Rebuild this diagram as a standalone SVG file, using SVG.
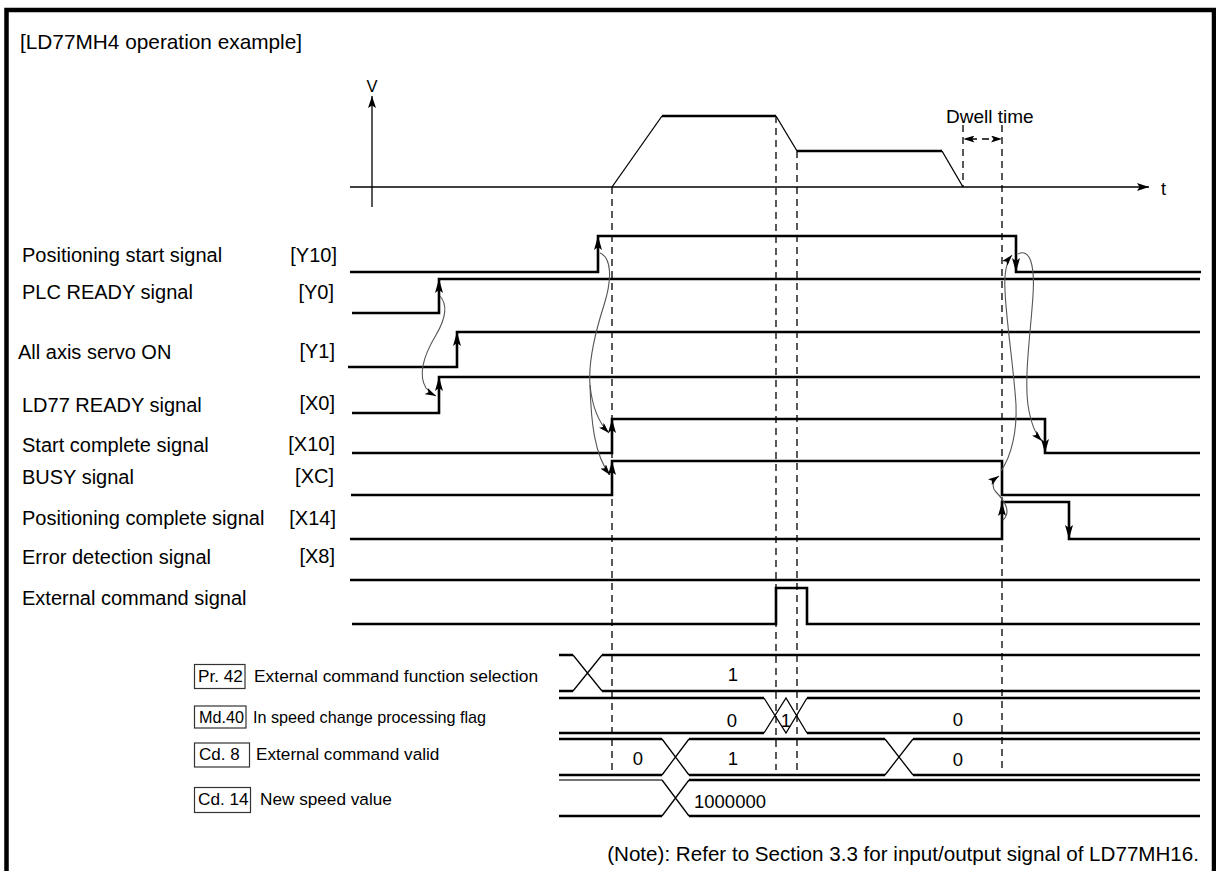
<svg xmlns="http://www.w3.org/2000/svg" width="1216" height="871" viewBox="0 0 1216 871">
<defs>
<style>
.t{font-family:"Liberation Sans",Arial,sans-serif;fill:#000}
.lbl{font-size:20px}
.r{text-anchor:end}
.v{font-size:18.5px;text-anchor:middle}
.w{fill:none;stroke:#000;stroke-width:2.6}
.th{fill:none;stroke:#000;stroke-width:1.3}
.ds{fill:none;stroke:#000;stroke-width:1.3;stroke-dasharray:7 5}
.cv{fill:none;stroke:#555;stroke-width:1.1;marker-end:url(#ahc)}
.mk{fill:none;stroke:none;marker-end:url(#ah)}
.bx{fill:none;stroke:#333;stroke-width:1.2}
</style>
<marker id="ah" viewBox="0 0 14 8" refX="14" refY="4" markerWidth="14" markerHeight="8" markerUnits="userSpaceOnUse" orient="auto"><path d="M0,0 L14,4 L0,8 L3,4 z" fill="#000"/></marker>
<marker id="ahc" viewBox="0 0 11 7" refX="11" refY="3.5" markerWidth="11" markerHeight="7" markerUnits="userSpaceOnUse" orient="auto"><path d="M0,0 L11,3.5 L0,7 L2.5,3.5 z" fill="#000"/></marker>
<marker id="aha" viewBox="0 0 12 8" refX="12" refY="4" markerWidth="12" markerHeight="8" markerUnits="userSpaceOnUse" orient="auto"><path d="M0,0 L12,4 L0,8 L2.5,4 z" fill="#000"/></marker>
</defs>
<rect width="1216" height="871" fill="#fff"/>
<g id="frame"><rect x="6.5" y="10" width="1207.5" height="900" fill="none" stroke="#000" stroke-width="4.5"/></g>
<g id="title"><text class="t" x="20" y="48.5" font-size="20.8">[LD77MH4 operation example]</text></g>

<g id="velocity-graph">
<path class="th" d="M372,207 L372,96" marker-end="url(#aha)" stroke-width="1.4"/>
<path class="th" d="M350,187 L1149,187" marker-end="url(#aha)" stroke-width="1.4"/>
<text class="t" x="372" y="92" font-size="16.5" text-anchor="middle">V</text>
<text class="t" x="1161" y="195" font-size="18">t</text>
<path class="th" d="M612,187 L662,116"/>
<path class="w" d="M662,116 H776"/>
<path class="th" d="M776,116 L797,151"/>
<path class="w" d="M797,151 H942"/>
<path class="th" d="M942,151 L963,187"/>
<text class="t" x="946" y="123" font-size="19">Dwell time</text>
<path class="ds" d="M970,139 H995"/>
<path fill="none" stroke="none" d="M980,139 L963.5,139" marker-end="url(#ahc)"/>
<path fill="none" stroke="none" d="M985,139 L1002,139" marker-end="url(#ahc)"/>
</g>

<g id="guides">
<path class="ds" d="M612,187 V770"/>
<path class="ds" d="M776,116 V770"/>
<path class="ds" d="M797,151 V770"/>
<path class="ds" d="M963,125 V187"/>
<path class="ds" d="M1002,125 V770"/>
</g>

<g id="sig-y10">
<text class="t lbl" x="22" y="262">Positioning start signal</text>
<text class="t lbl r" x="337" y="262">[Y10]</text>
<path class="w" d="M350,272 H598 V236 H1016 V272 H1201"/>
<path class="mk" d="M598,260 L598,236"/><path class="mk" d="M1016,250 L1016,272"/>
</g>
<g id="sig-y0">
<text class="t lbl" x="22" y="299">PLC READY signal</text>
<text class="t lbl r" x="334" y="299">[Y0]</text>
<path class="w" d="M352,313 H439 V279 H1200"/>
<path class="mk" d="M439,300 L439,279"/>
</g>
<g id="sig-y1">
<text class="t lbl" x="18" y="359">All axis servo ON</text>
<text class="t lbl r" x="335" y="358">[Y1]</text>
<path class="w" d="M348,367 H457 V332 H1200"/>
<path class="mk" d="M457,350 L457,332"/>
</g>
<g id="sig-x0">
<text class="t lbl" x="22" y="412">LD77 READY signal</text>
<text class="t lbl r" x="335" y="410">[X0]</text>
<path class="w" d="M352,413 H439 V377 H1200"/>
<path class="mk" d="M439,395 L439,377"/>
</g>
<g id="sig-x10">
<text class="t lbl" x="22" y="452">Start complete signal</text>
<text class="t lbl r" x="335" y="451">[X10]</text>
<path class="w" d="M352,453 H612 V419 H1045 V453 H1200"/>
<path class="mk" d="M612,440 L612,419"/><path class="mk" d="M1045,430 L1045,453"/>
</g>
<g id="sig-xc">
<text class="t lbl" x="22" y="484">BUSY signal</text>
<text class="t lbl r" x="334" y="483">[XC]</text>
<path class="w" d="M351,495 H612 V461 H1002 V495 H1200"/>
<path class="mk" d="M612,480 L612,461"/>
</g>
<g id="sig-x14">
<text class="t lbl" x="22" y="525">Positioning complete signal</text>
<text class="t lbl r" x="336" y="525">[X14]</text>
<path class="w" d="M350,539 H1002 V502 H1069 V539 H1200"/>
<path class="mk" d="M1002,520 L1002,502"/><path class="mk" d="M1069,520 L1069,539"/>
</g>
<g id="sig-x8">
<text class="t lbl" x="22" y="564">Error detection signal</text>
<text class="t lbl r" x="335" y="563">[X8]</text>
<path class="w" d="M350,580 H1200"/>
</g>
<g id="sig-ext">
<text class="t lbl" x="22" y="605">External command signal</text>
<path class="w" d="M352,624 H776 V588 H807 V624 H1200"/>
</g>

<g id="bus-pr42">
<rect class="bx" x="194.5" y="664.5" width="50.5" height="24"/>
<text class="t" x="198" y="682" font-size="17.2">Pr. 42</text>
<text class="t" x="254" y="682" font-size="17.4">External command function selection</text>
<path class="w" d="M559,655 H573 M559,691 H573 M602,655 H1200 M602,691 H1200"/>
<path class="th" d="M573,655 L602,691 M573,691 L602,655"/>
<text class="t v" x="733" y="681">1</text>
</g>
<g id="bus-md40">
<rect class="bx" x="194.5" y="706" width="51.5" height="22"/>
<text class="t" x="199" y="723" font-size="16.2">Md.40</text>
<text class="t" x="253" y="723" font-size="16.2">In speed change processing flag</text>
<path class="w" d="M559,698 H764 M559,733 H764 M807,698 H1200 M807,733 H1200"/>
<path class="th" d="M764,698 L786,733 L807,698 M764,733 L786,698 L807,733"/>
<text class="t v" x="732" y="727">0</text>
<text class="t v" x="786" y="726.5">1</text>
<text class="t v" x="958" y="726">0</text>
</g>
<g id="bus-cd8">
<rect class="bx" x="194.5" y="743" width="55" height="24"/>
<text class="t" x="199" y="760" font-size="17">Cd. 8</text>
<text class="t" x="256" y="760" font-size="17.2">External command valid</text>
<path class="w" d="M559,739 H662 M559,775 H662 M689,739 H885 M689,775 H885 M913,739 H1200 M913,775 H1200"/>
<path class="th" d="M662,739 L689,775 M662,775 L689,739 M885,739 L913,775 M885,775 L913,739"/>
<text class="t v" x="638" y="765">0</text>
<text class="t v" x="733" y="765">1</text>
<text class="t v" x="958" y="766">0</text>
</g>
<g id="bus-cd14">
<rect class="bx" x="194.5" y="787.5" width="56" height="25"/>
<text class="t" x="198" y="805" font-size="17.2">Cd. 14</text>
<text class="t" x="260" y="805" font-size="17.2">New speed value</text>
<path fill="none" stroke="#444" stroke-width="1.6" d="M559,780 H662"/>
<path class="w" d="M559,816 H662 M689,780 H1200 M689,816 H1200"/>
<path class="th" d="M662,780 L689,816 M662,816 L689,780"/>
<text class="t" x="694" y="808" font-size="18.5">1000000</text>
</g>

<g id="connectors">
<path class="cv" d="M440,296 C448,305 446,318 436,335 C424,355 418,375 426,388 C429,392 432,394 436,396"/>
<path class="cv" d="M600,253 C612,258 612,280 604,305 C596,330 588,360 590,385 C592,405 598,422 609,433"/>
<path class="cv" d="M590,385 C591,420 594,455 610,475"/>
<path class="cv" d="M1001,471 C1012,455 1017,430 1016,405 C1014,370 1006,320 1005,290 C1004,272 1006,262 1012,255"/>
<path class="cv" d="M1018,254 C1030,248 1035,265 1033,295 C1031,330 1024,375 1028,405 C1031,425 1036,435 1042,441"/>
<path class="cv" d="M1003,520 C1012,512 1004,500 996,492 C991,487 993,480 999,476"/>
</g>

<g id="note"><text class="t r" x="1199" y="861" font-size="20.6">(Note): Refer to Section 3.3 for input/output signal of LD77MH16.</text></g>
</svg>
